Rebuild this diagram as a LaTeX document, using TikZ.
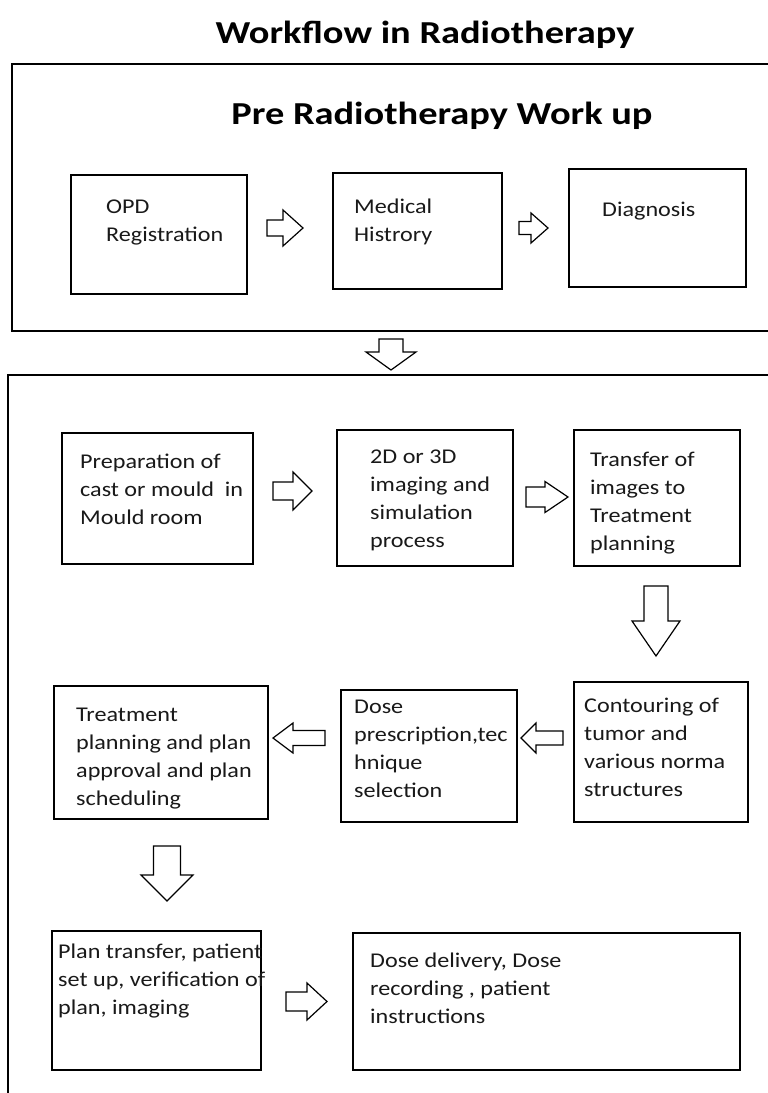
\documentclass[tikz,border=0pt]{standalone}
\usepackage{fontspec}
\newfontfamily\bodyfont[FakeStretch=1.15]{Carlito}
\newfontfamily\titlefont[FakeStretch=1.2]{Carlito}
\tikzset{
  frame/.style={draw=black, line width=1.8pt},
  box/.style={draw=black, line width=1.8pt, inner sep=0pt, anchor=north west},
  label/.style={inner sep=0pt, anchor=north west, align=left, text=black!90,
    font=\bodyfont\fontsize{21}{28}\selectfont, execute at begin node=\strut},
  heading/.style={inner sep=0pt, anchor=base, text=black,
    font=\titlefont\bfseries\fontsize{32}{38}\selectfont},
  arrowline/.style={draw=black, line width=1.2pt, line join=miter, fill=white},
  pics/blockarrow/.style n args={4}{code={
    \draw[arrowline] (0,{-#2/2}) -- ({#1-#3},{-#2/2}) -- ({#1-#3},{-#4/2}) -- (#1,0)
      -- ({#1-#3},{#4/2}) -- ({#1-#3},{#2/2}) -- (0,{#2/2}) -- cycle;
  }}
}
\begin{document}
\begin{tikzpicture}[x=1pt, y=-1pt]
\useasboundingbox (0,0) rectangle (768,1093);
\fill[white] (0,0) rectangle (768,1093);
\clip (0,0) rectangle (768,1093);

% titles
\node[heading] (title) at (425,43) {Workflow in Radiotherapy};

% outer frames
\draw[frame] (780,64) -- (12,64) -- (12,331) -- (780,331);
\draw[frame] (780,375) -- (8,375) -- (8,1110);

\node[heading] (pretitle) at (442,124) {Pre Radiotherapy Work up};

% boxes
\node[box, minimum width=176pt, minimum height=119pt] (opd)   at (70,174)  {};
\node[box, minimum width=169pt, minimum height=116pt] (med)   at (332,172) {};
\node[box, minimum width=177pt, minimum height=118pt] (diag)  at (568,168) {};
\node[box, minimum width=191pt, minimum height=131pt] (prep)  at (61,432)  {};
\node[box, minimum width=176pt, minimum height=136pt] (img)   at (336,429) {};
\node[box, minimum width=166pt, minimum height=136pt] (xfer)  at (573,429) {};
\node[box, minimum width=214pt, minimum height=133pt] (treat) at (53,685)  {};
\node[box, minimum width=176pt, minimum height=132pt] (dose)  at (340,689) {};
\node[box, minimum width=174pt, minimum height=140pt] (cont)  at (573,681) {};
\node[box, minimum width=209pt, minimum height=139pt] (plan)  at (51,930)  {};
\node[box, minimum width=387pt, minimum height=137pt] (deliv) at (352,932) {};

% texts
\node[label] (topd)   at (106,199.4) {OPD\\Registration};
\node[label] (tmed)   at (354,198.4) {Medical\\Histrory};
\node[label] (tdiag)  at (602,196.4) {Diagnosis};
\node[label] (tprep)  at (80,453.4)  {Preparation of\\cast or mould\ \ in\\Mould room};
\node[label] (timg)   at (370,449.4) {2D or 3D\\imaging and\\simulation\\process};
\node[label] (txfer)  at (590,451.4) {Transfer of\\images to\\Treatment\\planning};
\node[label] (ttreat) at (76,707.4)  {Treatment\\planning and plan\\approval and plan\\scheduling};
\node[label] (tdose)  at (354,699.4) {Dose\\prescription,tec\\hnique\\selection};
\node[label] (tcont)  at (584,697.4) {Contouring of\\tumor and\\various norma\\structures};
\node[label] (tplan)  at (58,943.4)  {Plan transfer, patient\\set up, verification of\\plan, imaging};
\node[label] (tdeliv) at (370,952.4) {Dose delivery, Dose\\recording , patient\\instructions};

% block arrows
\pic at (267,228) {blockarrow={36}{16}{20}{36}};
\pic at (519,228) {blockarrow={29}{13}{17}{30}};
\pic[rotate=-90] at (391,339) {blockarrow={31}{24}{18}{50}};
\pic at (273,491) {blockarrow={39}{18}{19}{38}};
\pic at (526,497) {blockarrow={42}{20}{23}{31}};
\pic[rotate=-90] at (656,586) {blockarrow={70}{24}{35}{48}};
\pic[rotate=180] at (563,738) {blockarrow={42}{14}{15}{30}};
\pic[rotate=180] at (325,738) {blockarrow={52}{15}{20}{30}};
\pic[rotate=-90] at (167,846) {blockarrow={55}{27}{26}{52}};
\pic at (286,1001.5) {blockarrow={41}{19}{20}{37}};
\end{tikzpicture}
\end{document}
